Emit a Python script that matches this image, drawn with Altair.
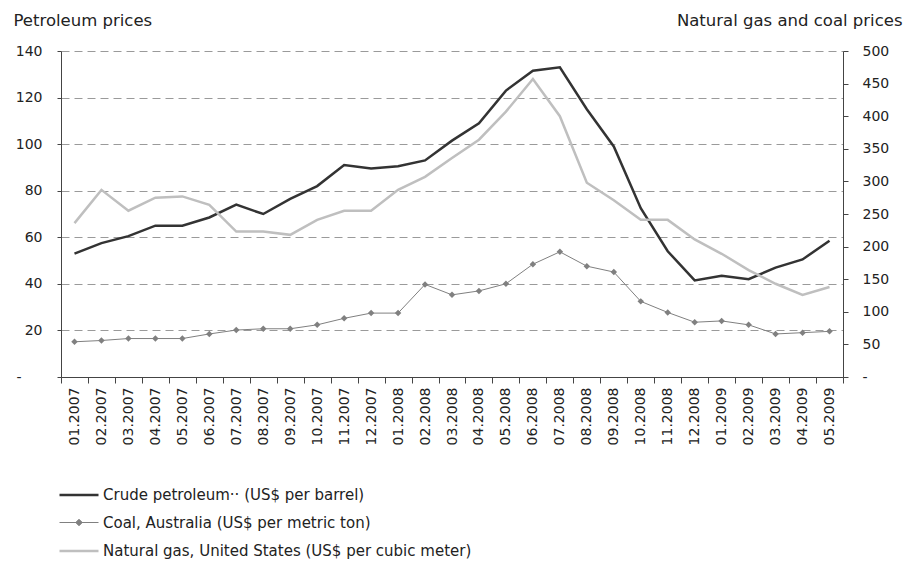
import altair as alt
import pandas as pd

months = ["01.2007", "02.2007", "03.2007", "04.2007", "05.2007", "06.2007", "07.2007",
          "08.2007", "09.2007", "10.2007", "11.2007", "12.2007", "01.2008", "02.2008",
          "03.2008", "04.2008", "05.2008", "06.2008", "07.2008", "08.2008", "09.2008",
          "10.2008", "11.2008", "12.2008", "01.2009", "02.2009", "03.2009", "04.2009",
          "05.2009"]

# left axis (US$ per barrel)
crude = [53, 57.5, 60.5, 65, 65, 68.5, 74, 70, 76.5, 82, 91, 89.5, 90.5, 93, 101.5,
         109, 123, 131.5, 133, 115, 99, 72.5, 54, 41.5, 43.5, 42, 47, 50.5, 58.5]
# right axis
coal = [54, 56, 59, 59, 59, 66, 72, 74, 74, 80, 90, 98, 98, 142, 126, 132, 143, 173,
        192, 170, 161, 116, 99, 84, 86, 80, 66, 68, 70]
gas = [236, 287, 255, 275, 277, 264, 223, 223, 218, 241, 255, 255, 287, 307, 336, 364,
       407, 457, 400, 298, 271, 241, 241, 211, 189, 164, 143, 126, 138]

series_names = ["Crude petroleum\u00b7\u00b7 (US$ per barrel)",
                "Coal, Australia (US$ per metric ton)",
                "Natural gas, United States (US$ per cubic meter)"]
line_colors = ["#333333", "#808080", "#bfbfbf"]
line_widths = [2.5, 1, 2.5]
legend_shapes = ["M-3,0H3",
                 "M-3,0H3M-0.5,0L0,-0.5L0.5,0L0,0.5Z",
                 "M-3,0H3"]
left_ticks = [0, 20, 40, 60, 80, 100, 120, 140]
right_ticks = [0, 50, 100, 150, 200, 250, 300, 350, 400, 450, 500]

rows = []
for s, vals in zip(series_names, [crude, coal, gas]):
    for m, v in zip(months, vals):
        rows.append({"month": m, "series": s, "value": v})
df = pd.DataFrame(rows)

FONT = "DejaVu Sans"
AX = "#444444"
TXT = "#222222"

x_enc = alt.X(
    "month:N", sort=months, bandPosition=0.5,
    scale=alt.Scale(type="band", paddingInner=0, paddingOuter=0),
    axis=alt.Axis(title=None, labelAngle=270, tickBand="extent", tickSize=6,
                  labelPadding=4, domainColor=AX, tickColor=AX, labelColor=TXT,
                  labelFontSize=14, labelFont=FONT, grid=False),
)

base = alt.Chart(df)

left_axis = alt.Axis(
    values=left_ticks, orient="left", grid=True, gridDash=[8, 5], gridColor="#9a9a9a",
    gridWidth=1, domainColor=AX, tickColor=AX, tickSize=4,
    labelPadding={"condition": {"test": "datum.value == 0", "value": 36}, "value": 15},
    labelFontSize=14, labelFont=FONT, labelColor=TXT,
    labelExpr="datum.value == 0 ? '-' : datum.label",
    title="Petroleum prices", titleAngle=0, titleAlign="left",
    titleBaseline="alphabetic", titleX=-48, titleY=-26, titleFontSize=16.5,
    titleFontWeight="normal", titleFont=FONT, titleColor=TXT,
)
right_axis = alt.Axis(
    values=right_ticks, orient="right", grid=False, domainColor=AX, tickColor=AX,
    tickSize=5, labelPadding=14, labelFontSize=14, labelFont=FONT, labelColor=TXT,
    labelExpr="datum.value == 0 ? '-' : datum.label",
    title="Natural gas and coal prices", titleAngle=0, titleAlign="right",
    titleBaseline="alphabetic", titleX=59, titleY=-26, titleFontSize=16.5,
    titleFontWeight="normal", titleFont=FONT, titleColor=TXT,
)
right_y = alt.Y("value:Q", scale=alt.Scale(domain=[0, 500], nice=False), axis=right_axis)

crude_line = base.transform_filter(alt.datum.series == series_names[0]).mark_line(
    color=line_colors[0], strokeWidth=line_widths[0]
).encode(
    x=x_enc,
    y=alt.Y("value:Q", scale=alt.Scale(domain=[0, 140], nice=False), axis=left_axis),
)

gas_line = base.transform_filter(alt.datum.series == series_names[2]).mark_line(
    color=line_colors[2], strokeWidth=line_widths[2]
).encode(x=x_enc, y=right_y)
coal_line = base.transform_filter(alt.datum.series == series_names[1]).mark_line(
    color=line_colors[1], strokeWidth=line_widths[1]
).encode(x=x_enc, y=right_y)
coal_pts = base.transform_filter(alt.datum.series == series_names[1]).mark_point(
    shape="diamond", filled=True, color=line_colors[1], size=42, opacity=1
).encode(x=x_enc, y=right_y)

legend_def = alt.Legend(
    title=None, orient="none", legendX=10, legendY=436, direction="vertical",
    symbolSize=169, labelFontSize=15, labelFont=FONT, labelColor=TXT, labelLimit=600,
    labelOffset=16, rowPadding=12, padding=0, symbolFillColor="#808080",
)
legend_layer = base.transform_filter("false").mark_point(
    filled=False, fill="#808080", opacity=1
).encode(
    x=x_enc,
    y=right_y,
    shape=alt.Shape("series:N", scale=alt.Scale(domain=series_names, range=legend_shapes),
                    legend=legend_def),
    color=alt.Color("series:N", scale=alt.Scale(domain=series_names, range=line_colors),
                    legend=legend_def),
    strokeWidth=alt.StrokeWidth("series:N",
                                scale=alt.Scale(type="ordinal", domain=series_names,
                                                range=line_widths),
                                legend=legend_def),
)

right_layer = alt.layer(gas_line, coal_line, coal_pts, legend_layer)

chart = alt.layer(crude_line, right_layer).resolve_scale(y="independent").properties(
    width=782, height=326,
    padding={"left": 53, "top": 43, "right": 60, "bottom": 200},
    autosize=alt.AutoSizeParams(type="none"),
).configure(font=FONT).configure_view(stroke=None)

chart.save("out.html", embed_options={"renderer": "svg", "actions": False})
